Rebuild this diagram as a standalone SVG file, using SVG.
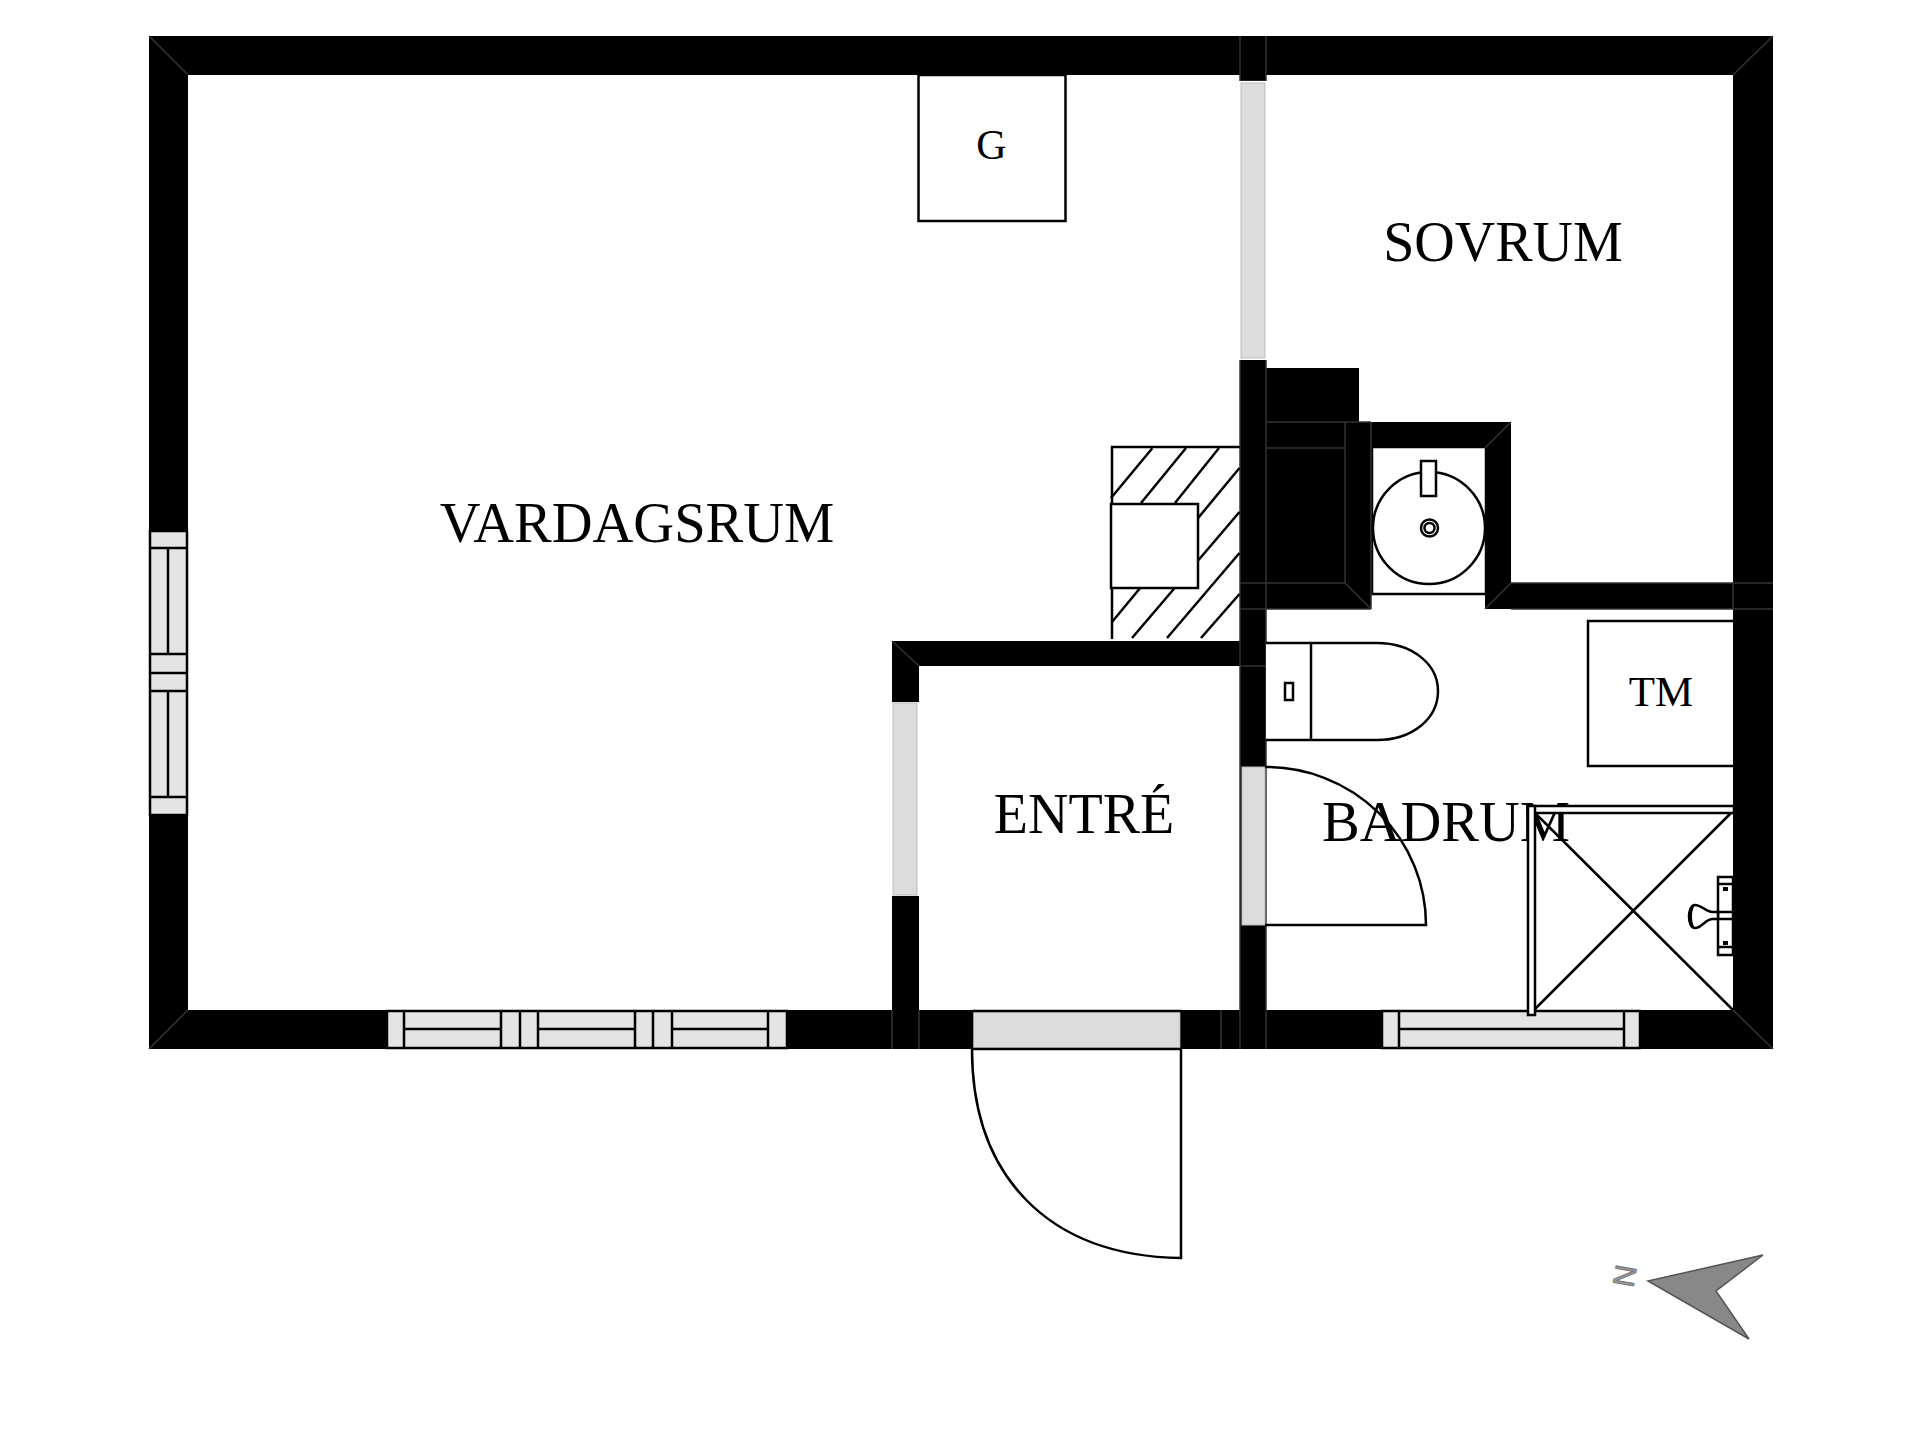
<svg xmlns="http://www.w3.org/2000/svg" width="1920" height="1440" viewBox="0 0 1920 1440">
<style>
.w{fill:#000;stroke:none}
.s{fill:none;stroke:#000;stroke-width:2.5}
.f{fill:#fff;stroke:#000;stroke-width:2.5}
.l{fill:none;stroke:#333;stroke-width:1.5}
.g{fill:#e4e4e4;stroke:#000;stroke-width:2.5}
.d{fill:#dcdcdc;stroke:#bbb;stroke-width:1}
.t{font-family:"Liberation Serif","Times New Roman",serif;fill:#000;text-anchor:middle}
</style>
<rect width="1920" height="1440" fill="#fff"/>
<g id="sink-floor"><rect class="f" x="1372" y="447" width="114" height="147"/></g>
<g id="tm-box"><rect class="f" x="1588" y="621" width="147" height="145"/></g>
<g id="walls">
<rect class="w" x="149" y="36" width="1624" height="39"/>
<rect class="w" x="149" y="36" width="39" height="1013"/>
<rect class="w" x="149" y="1010" width="1624" height="39"/>
<rect class="w" x="1733" y="36" width="40" height="1013"/>
<rect class="w" x="1240" y="36" width="26" height="45"/>
<rect class="w" x="1240" y="360" width="26" height="689"/>
<rect class="w" x="1266" y="368" width="93" height="54"/>
<rect class="w" x="1266" y="422" width="245" height="26"/>
<rect class="w" x="1266" y="448" width="105" height="161"/>
<rect class="w" x="1485" y="422" width="26" height="187"/>
<rect class="w" x="1485" y="583" width="288" height="26"/>
<rect class="w" x="1240" y="583" width="131" height="26"/>
<rect class="w" x="892" y="641" width="374" height="25"/>
<rect class="w" x="892" y="641" width="27" height="408"/>
</g>
<g id="wall-seams">
<path class="l" d="M149 36L188 75M1773 36L1733 75M149 1049L188 1010M1773 1049L1733 1010M892 641L919 666M1511 422L1485 448M1511 583L1485 609M1345 583L1371 609"/>
<path class="l" d="M1240 36V81H1266V36M1240 360V1049M1266 360V1049M892 1010V1049M919 1010V1049M1221 1010V1049M1266 422H1371M1266 448H1345M1345 422V583M1371 422V609M1240 583H1345M1266 641V666M1240 666H1266M1240 609H1371M1511 609H1773M1511 583H1773M1733 583V609"/>
</g>
<g id="openings">
<rect fill="#fff" x="1239" y="81" width="28" height="279"/>
<rect class="d" x="1241" y="83" width="24" height="275"/>
<rect fill="#fff" x="891" y="702" width="29" height="194"/>
<rect class="d" x="893" y="703" width="24" height="192"/>
<rect class="d" x="1242" y="767" width="23" height="158" stroke="none"/>
<rect class="d" x="973" y="1012" width="207" height="36" stroke="none"/>
<path class="s" d="M972 1011H1182M972 1049H1182M972 1011V1049M1182 1011V1049"/>
</g>
<g id="window-west">
<rect class="g" x="150" y="531" width="37" height="284"/>
<path class="s" d="M150 548H187M150 654H187M150 673H187M150 691H187M150 797H187M168 548V654M168 691V797"/>
</g>
<g id="window-south">
<rect class="g" x="387" y="1011" width="400" height="37"/>
<path class="s" d="M404 1011V1048M501 1011V1048M520 1011V1048M538 1011V1048M635 1011V1048M653 1011V1048M672 1011V1048M768 1011V1048M404 1029H501M538 1029H635M672 1029H768"/>
</g>
<g id="window-bath">
<rect class="g" x="1382" y="1011" width="258" height="37"/>
<path class="s" d="M1399 1011V1048M1624 1011V1048M1399 1029H1624"/>
</g>
<g id="door-entry"><path class="s" d="M972 1049C972 1175 1047 1256 1181 1258V1049"/></g>
<g id="door-bath"><path class="s" d="M1265 767A160 158 0 0 1 1426 925H1265"/></g>
<g id="room-vardagsrum"><text class="t" x="637" y="542" font-size="56.5">VARDAGSRUM</text></g>
<g id="room-sovrum"><text class="t" x="1503" y="261" font-size="56">SOVRUM</text></g>
<g id="room-entre"><text class="t" x="1084" y="833" font-size="56">ENTRÉ</text></g>
<g id="room-badrum"><text class="t" x="1446" y="841" font-size="56.5">BADRUM</text></g>
<g id="fireplace-g"><rect class="f" x="918.5" y="75" width="147" height="146"/><text class="t" x="991.5" y="159" font-size="42">G</text></g>
<g id="stove">
<path class="s" d="M1240 447H1112V639"/>
<path class="s" d="M1111 498L1152.300 448.300M1141 503L1186 448M1175 503L1219 448M1112 622L1239.500 468M1132 638L1239.500 512M1167 638L1239.500 553M1201 638L1239.500 594"/>
<rect class="f" x="1111" y="504" width="87" height="84"/>
</g>
<g id="sink">
<ellipse class="f" cx="1429" cy="528" rx="56" ry="56"/>
<rect class="f" x="1421" y="461" width="15" height="35"/>
<circle class="f" cx="1429.500" cy="528" r="8.500"/>
<circle class="s" cx="1429.500" cy="528" r="5"/>
</g>
<g id="toilet">
<path class="f" d="M1266 643H1377C1412 643 1438 664 1438 691C1438 719 1412 740 1377 740H1266"/>
<path class="s" d="M1311 643V740"/>
<rect class="f" x="1285" y="683" width="8" height="17"/>
</g>
<g id="tm"><text class="t" x="1661" y="706" font-size="43">TM</text></g>
<g id="shower">
<path class="s" d="M1535 813L1733 1010M1731 813L1535 1009"/>
<rect class="f" x="1528" y="806" width="206" height="7"/>
<rect class="f" x="1528" y="806" width="7" height="209"/>
<rect class="f" x="1718" y="877" width="15" height="78"/>
<path class="s" d="M1718 884H1733M1718 947H1733M1718 912H1733M1718 919H1733"/>
<path class="f" d="M1718 912H1713C1705 912 1702 905 1695 905C1687 905 1687 928 1695 928C1702 928 1705 919 1713 919H1718Z"/>
<path class="s" d="M1693 906C1690 911 1690 922 1693 927"/>
<rect x="1723" y="887" width="5" height="4"/><rect x="1723" y="941" width="5" height="4"/>
</g>
<g id="north-arrow">
<path d="M1648 1281L1763 1255L1716 1291L1749 1339Z" fill="#888" stroke="#555" stroke-width="1.500"/>
<text x="1625" y="1276" font-family="Liberation Sans,sans-serif" font-size="30" text-anchor="middle" dominant-baseline="central" fill="#999" stroke="#777" stroke-width="1" transform="rotate(100 1625 1276)">N</text>
</g>
</svg>
